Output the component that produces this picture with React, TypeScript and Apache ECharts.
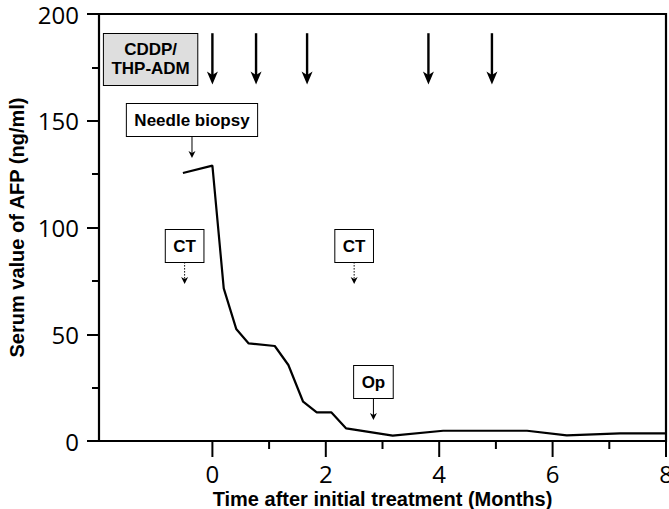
import React, { useEffect, useRef } from "react";
import * as echarts from "echarts";

// AFP curve
const months = [-0.52, 0, 0.2, 0.42, 0.64, 1.1, 1.34, 1.6, 1.84, 2.1, 2.36, 3.18, 4.07, 5.55, 6.25, 7.19, 8];
const afp = [125.5, 129, 71.5, 52.5, 45.7, 44.5, 35.6, 18.4, 13.4, 13.4, 5.9, 2.5, 4.8, 4.8, 2.6, 3.6, 3.6];

// x ticks (every month from 0, labels on even months)
const xTickValues = [0, 1, 2, 3, 4, 5, 6, 7, 8];

// chemotherapy (CDDP/THP-ADM) courses
const treatmentMonths = [0, 0.77, 1.67, 3.81, 4.93];
const treatmentArrowTop = 191;
const treatmentArrowBottom = 167;

// boxed annotations
const noteLabels = ["CDDP/\nTHP-ADM", "Needle biopsy", "CT", "CT", "Op"];
const noteX = [-1.09, -0.36, -0.49, 2.5, 2.84];
const noteY = [178.7, 150.3, 91.3, 91.3, 27.6];
const noteArrowTip = [NaN, 132.5, 73.5, 73.5, 9.8];
const noteDotted = [false, false, true, true, false];
const noteShaded = [true, false, false, false, false];

const BOLD = "bold 17px 'Liberation Sans', Arial, sans-serif";

export default function App() {
  const ref = useRef<HTMLDivElement>(null);
  useEffect(() => {
    if (!ref.current) return;
    document.body.style.margin = "0";
    const chart = echarts.init(ref.current, undefined, { renderer: "svg", width: 669, height: 509 });
    const option: any = {
      animation: false,
      grid: {
        left: 99,
        top: 14,
        right: 3,
        bottom: 68,
        containLabel: false,
        outerBoundsMode: "none",
        show: true,
        borderColor: "#000",
        borderWidth: 2.2,
        backgroundColor: "transparent",
      },
      xAxis: {
        type: "value",
        min: -2,
        max: 8,
        interval: 2,
        axisLine: { show: false, onZero: false },
        axisTick: { show: false },
        splitLine: { show: false },
        axisLabel: {
          formatter: (v: number) => (v >= 0 ? String(v) : ""),
          fontSize: 24,
          fontFamily: "'Open Sans', sans-serif",
          color: "#000",
          margin: 20,
        },
        name: "Time after initial treatment (Months)",
        nameLocation: "middle",
        nameGap: 48,
        nameMoveOverlap: false,
        nameTextStyle: {
          fontSize: 20,
          fontWeight: "bold",
          fontFamily: "'Liberation Sans', Arial, sans-serif",
          color: "#000",
        },
      },
      yAxis: {
        type: "value",
        min: 0,
        max: 200,
        interval: 50,
        axisLine: { show: false, onZero: false },
        axisTick: { show: true, length: 12, lineStyle: { color: "#000", width: 2 } },
        minorTick: { show: true, splitNumber: 2, length: 7, lineStyle: { color: "#000", width: 2 } },
        splitLine: { show: false },
        minorSplitLine: { show: false },
        axisLabel: {
          fontSize: 24,
          fontFamily: "'Open Sans', sans-serif",
          color: "#000",
          margin: 20,
        },
        name: "Serum value of AFP (ng/ml)",
        nameLocation: "middle",
        nameGap: 72,
        nameMoveOverlap: false,
        nameTextStyle: {
          fontSize: 20,
          fontWeight: "bold",
          fontFamily: "'Liberation Sans', Arial, sans-serif",
          color: "#000",
        },
      },
      series: [
        {
          type: "line",
          data: months.map((m, i) => [m, afp[i]]),
          showSymbol: false,
          symbol: "none",
          lineStyle: { color: "#000", width: 2.2 },
          z: 3,
        },
        {
          type: "custom",
          clip: false,
          silent: true,
          data: xTickValues.map((v) => [v, 0]),
          renderItem: (params: any, api: any) => {
            const v = api.value(0);
            const p = api.coord([v, 0]);
            const len = v % 2 === 0 ? 16 : 8;
            return {
              type: "line",
              shape: { x1: p[0], y1: p[1], x2: p[0], y2: p[1] + len },
              style: { stroke: "#000", lineWidth: 2 },
            };
          },
        },
        {
          type: "custom",
          clip: false,
          silent: true,
          data: treatmentMonths.map((m) => [m, treatmentArrowTop]),
          renderItem: (params: any, api: any) => {
            const m = api.value(0);
            const t = api.coord([m, treatmentArrowTop]);
            const b = api.coord([m, treatmentArrowBottom]);
            const x = t[0];
            return {
              type: "group",
              children: [
                {
                  type: "line",
                  shape: { x1: x, y1: t[1], x2: x, y2: b[1] - 8 },
                  style: { stroke: "#000", lineWidth: 2.4 },
                },
                {
                  type: "polygon",
                  shape: {
                    points: [
                      [x, b[1]],
                      [x - 5.5, b[1] - 13],
                      [x, b[1] - 9.5],
                      [x + 5.5, b[1] - 13],
                    ],
                  },
                  style: { fill: "#000" },
                },
              ],
            };
          },
        },
        {
          type: "custom",
          clip: false,
          silent: true,
          data: noteX.map((x, i) => [x, noteY[i]]),
          renderItem: (params: any, api: any) => {
            const i = params.dataIndex;
            const c = api.coord([noteX[i], noteY[i]]);
            const lines = noteLabels[i].split("\n").length;
            const halfH = (lines * 19 + 13) / 2;
            const children: any[] = [
              {
                type: "text",
                x: c[0],
                y: c[1],
                style: {
                  text: noteLabels[i],
                  font: BOLD,
                  fill: "#000",
                  align: "center",
                  verticalAlign: "middle",
                  lineHeight: 19,
                  padding: [6.5, 7.5],
                  backgroundColor: noteShaded[i] ? "#dedede" : "#fff",
                  borderColor: "#000",
                  borderWidth: 1,
                },
              },
            ];
            if (!isNaN(noteArrowTip[i])) {
              const tip = api.coord([noteX[i], noteArrowTip[i]]);
              const x = c[0];
              children.push({
                type: "line",
                shape: { x1: x, y1: c[1] + halfH, x2: x, y2: tip[1] - 5 },
                style: {
                  stroke: "#000",
                  lineWidth: 1,
                  lineDash: noteDotted[i] ? [1.5, 1.5] : null,
                },
              });
              children.push({
                type: "polygon",
                shape: {
                  points: [
                    [x, tip[1]],
                    [x - 3.5, tip[1] - 7],
                    [x, tip[1] - 5],
                    [x + 3.5, tip[1] - 7],
                  ],
                },
                style: { fill: "#000" },
              });
            }
            return { type: "group", children };
          },
        },
      ],
    };
    chart.setOption(option);
    return () => chart.dispose();
  }, []);
  return (
    <div
      ref={ref}
      style={{ position: "absolute", left: 0, top: 0, width: 669, height: 509, background: "#fff" }}
    />
  );
}
